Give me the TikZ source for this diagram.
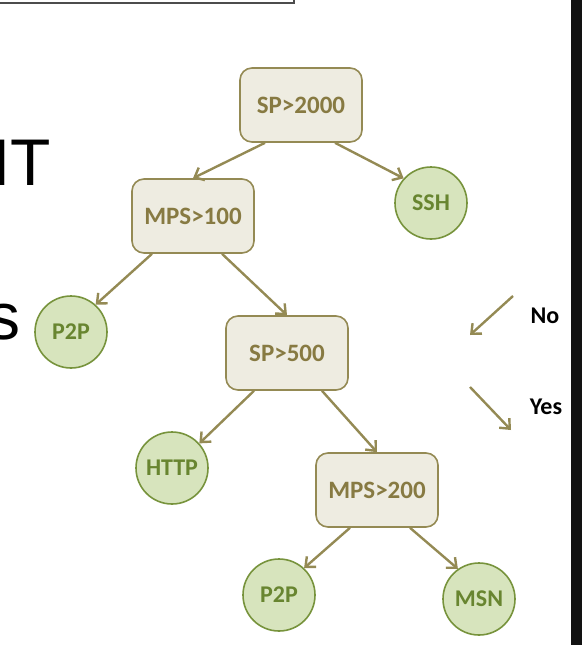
\documentclass[tikz,border=0pt]{standalone}
\usepackage{fontspec}
\setmainfont{Carlito}
\newfontfamily\arialfont{Liberation Sans}
\usetikzlibrary{arrows.meta}
\definecolor{olive}{HTML}{948A54}
\definecolor{oliveText}{HTML}{877A42}
\definecolor{beige}{HTML}{EEECE1}
\definecolor{leafFill}{HTML}{D7E4BD}
\definecolor{leafLine}{HTML}{77933C}
\definecolor{leafText}{HTML}{688530}
\tikzset{
  testbox/.style={draw=olive, fill=beige, line width=1.6pt, rounded corners=12pt,
    minimum width=122pt, minimum height=74pt, inner sep=0pt,
    text=oliveText, font=\fontsize{25}{29}\selectfont\bfseries},
  leaf/.style={circle, draw=leafLine, fill=leafFill, line width=1.6pt,
    minimum size=72pt, inner sep=0pt,
    text=leafText, font=\fontsize{24}{28}\selectfont\bfseries},
  link/.style={draw=olive, line width=2.4pt, -{Straight Barb[length=8pt,width=14pt,line width=2.4pt]}},
  legendtext/.style={font=\fontsize{24}{28}\selectfont\bfseries, text=black, inner sep=0pt},
  bigtext/.style={font=\arialfont\fontsize{66}{70}\selectfont, text=black, inner sep=0pt}
}
\begin{document}
\begin{tikzpicture}[x=1pt, y=-1pt]
  \useasboundingbox (0,0) rectangle (588,645);
  \begin{scope}
    \clip (0,0) rectangle (588,645);
    % frame of the panel above
    \draw[draw=black!70, line width=1.5pt] (-10,-10) rectangle (294,3);
    % slide text running off the left edge
    \node[bigtext, anchor=base west] (it) at (-8,185) {IT};
    \node[bigtext, anchor=base west] (s) at (-13,339) {s};
    % dark bar at the right
    \fill[black!93] (571,-1) rectangle (582,646);
  \end{scope}

  % decision tree
  \node[testbox] (sp2000) at (301,105) {SP>2000};
  \node[leaf]    (ssh)    at (431,203) {SSH};
  \node[testbox] (mps100) at (193,216) {MPS>100};
  \node[leaf]    (p2pa)   at (71,332)  {P2P};
  \node[testbox] (sp500)  at (287,353) {SP>500};
  \node[leaf]    (http)   at (172,468) {HTTP};
  \node[testbox] (mps200) at (377,490) {MPS>200};
  \node[leaf]    (p2pb)   at (279,595) {P2P};
  \node[leaf]    (msn)    at (479,599) {MSN};

  \draw[link] ([xshift=-36pt]sp2000.south) -- (mps100.north);
  \draw[link] ([xshift=34pt]sp2000.south) -- (ssh.138);
  \draw[link] ([xshift=-41pt]mps100.south) -- (p2pa.48);
  \draw[link] ([xshift=29pt]mps100.south) -- (sp500.north);
  \draw[link] ([xshift=-33pt]sp500.south) -- (http.42);
  \draw[link] ([xshift=35pt]sp500.south) -- (mps200.north);
  \draw[link] ([xshift=-27pt]mps200.south) -- (p2pb.47);
  \draw[link] ([xshift=33pt]mps200.south) -- (msn.125);

  % legend
  \coordinate (noA) at (513,296);
  \coordinate (noB) at (470,335);
  \coordinate (yesA) at (470,387);
  \coordinate (yesB) at (511,430);
  \draw[link] (noA) -- (noB);
  \draw[link] (yesA) -- (yesB);
  \node[legendtext] (no)  at (545,316) {No};
  \node[legendtext] (yes) at (546,407) {Yes};
\end{tikzpicture}
\end{document}
